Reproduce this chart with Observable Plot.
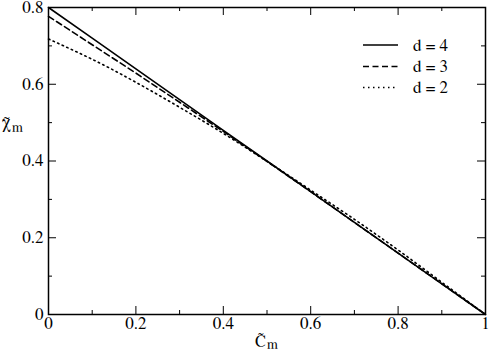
<!DOCTYPE html>
<html><head><meta charset="utf-8">
<script src="https://cdn.jsdelivr.net/npm/d3@7"></script>
<script src="https://cdn.jsdelivr.net/npm/@observablehq/plot@0.6"></script>
<style>html,body{margin:0;padding:0;background:#fff} svg{display:block} svg text{font-family:FreeSerif,"Liberation Serif",serif;}</style>
</head><body><div id="chart"></div>
<script>
// Data
const cGrid = [0, 0.1, 0.2, 0.3, 0.4, 0.5, 0.6, 0.7, 0.8, 0.9, 1];
const chiD4 = [0.8, 0.72, 0.64, 0.56, 0.48, 0.40, 0.32, 0.24, 0.16, 0.08, 0];
const chiD3 = [0.777, 0.703, 0.629, 0.553, 0.477, 0.399, 0.32, 0.24, 0.16, 0.08, 0];
const cD2 = [0, 0.05, 0.1, 0.15, 0.2, 0.3, 0.4, 0.5, 0.6, 0.7, 0.8, 0.9, 1];
const chiD2 = [0.718, 0.692, 0.665, 0.636, 0.605, 0.54, 0.472, 0.399, 0.324, 0.248, 0.168, 0.084, 0];

const seriesNames = ["d = 4", "d = 3", "d = 2"];
const xMajor = [0, 0.2, 0.4, 0.6, 0.8, 1];
const xMinor = [0.1, 0.3, 0.5, 0.7, 0.9];
const xTickLabels = ["0", "0.2", "0.4", "0.6", "0.8", "1"];
const yMajor = [0, 0.2, 0.4, 0.6, 0.8];
const yMinor = [0.1, 0.3, 0.5, 0.7];
const yTickLabels = ["0", "0.2", "0.4", "0.6", "0.8"];

const W = 491, H = 352;
const mL = 48, mR = 6, mT = 7, mB = 38;
const plotW = W - mL - mR, plotH = H - mT - mB;

const d4 = cGrid.map((c, i) => ({c, chi: chiD4[i]}));
const d3s = cGrid.map((c, i) => ({c, chi: chiD3[i]}));
const d2 = cD2.map((c, i) => ({c, chi: chiD2[i]}));

const styles = [
  {stroke: "black", strokeWidth: 1.6},
  {stroke: "black", strokeWidth: 1.6, strokeDasharray: "6,3.5"},
  {stroke: "black", strokeWidth: 1.6, strokeDasharray: "1.5,3.5"}
];

const ff = "FreeSerif, 'Liberation Serif', serif";

const fig = Plot.plot({
  width: W, height: H,
  marginLeft: mL, marginRight: mR, marginTop: mT, marginBottom: mB,
  style: `font-family: ${ff}; font-size: 17px; color: black; background: white;`,
  x: {domain: [0, 1]},
  y: {domain: [0, 0.8]},
  marks: [
    Plot.line(d4, {x: "c", y: "chi", ...styles[0]}),
    Plot.line(d3s, {x: "c", y: "chi", ...styles[1]}),
    Plot.line(d2, {x: "c", y: "chi", curve: "monotone-x", ...styles[2]}),
    // inward ticks
    Plot.tickX(xMajor, {x: d => d, stroke: "black", insetTop: plotH - 8}),
    Plot.tickX(xMinor, {x: d => d, stroke: "black", insetTop: plotH - 4}),
    Plot.tickX(xMajor, {x: d => d, stroke: "black", insetBottom: plotH - 8}),
    Plot.tickX(xMinor, {x: d => d, stroke: "black", insetBottom: plotH - 4}),
    Plot.tickY(yMajor, {y: d => d, stroke: "black", insetRight: plotW - 8}),
    Plot.tickY(yMinor, {y: d => d, stroke: "black", insetRight: plotW - 4}),
    Plot.tickY(yMajor, {y: d => d, stroke: "black", insetLeft: plotW - 8}),
    Plot.tickY(yMinor, {y: d => d, stroke: "black", insetLeft: plotW - 4}),
    Plot.axisX({ticks: xMajor, tickSize: 0, tickPadding: 2, label: null, fontSize: 17,
      tickFormat: d => xTickLabels[xMajor.indexOf(d)]}),
    Plot.axisY({ticks: yMajor, tickSize: 0, tickPadding: 5, label: null, fontSize: 17,
      tickFormat: d => yTickLabels[yMajor.indexOf(d)]}),
    Plot.frame({stroke: "black", strokeWidth: 1.5})
  ]
});

document.getElementById("chart").appendChild(fig);
const svg = d3.select(fig);

// Axis titles
const yt = svg.append("text").attr("fill", "black").attr("text-anchor", "start");
yt.append("tspan").attr("x", 2).attr("y", 128).attr("font-size", 18).text("\u03C7\u0303");
yt.append("tspan").attr("x", 12).attr("y", 132).attr("font-size", 14).text("m");

const xt = svg.append("text").attr("fill", "black").attr("text-anchor", "start");
xt.append("tspan").attr("x", 255).attr("y", 347).attr("font-size", 16).text("C\u0303");
xt.append("tspan").attr("x", 267).attr("y", 349).attr("font-size", 14).text("m");

// Legend
const legY = [45, 66.5, 87.5];
seriesNames.forEach((name, i) => {
  const g = svg.append("g");
  g.append("line").attr("x1", 363).attr("x2", 398).attr("y1", legY[i]).attr("y2", legY[i])
    .attr("stroke", "black").attr("stroke-width", styles[i].strokeWidth)
    .attr("stroke-dasharray", styles[i].strokeDasharray || null);
  g.append("text").attr("x", 413).attr("y", legY[i]).attr("dy", "0.35em").attr("text-anchor", "start")
    .attr("font-size", 17).attr("fill", "black").text(name);
});
</script>
</body></html>
